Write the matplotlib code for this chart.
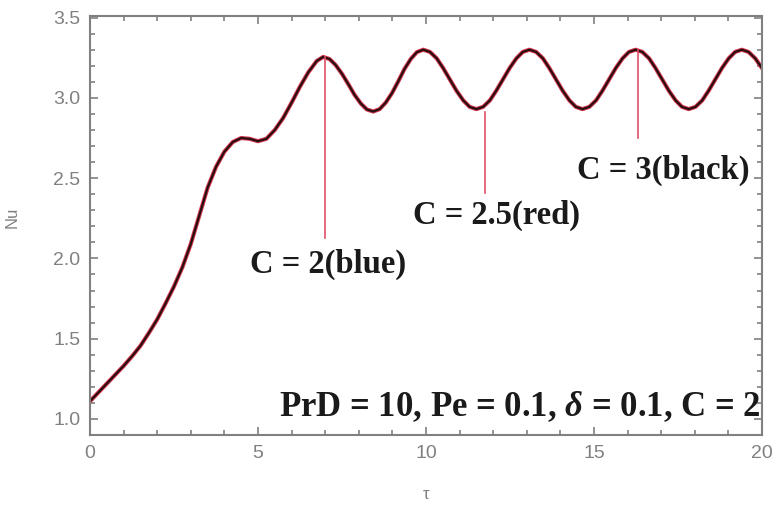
import matplotlib
matplotlib.use("Agg")
import matplotlib.pyplot as plt
from matplotlib.ticker import MultipleLocator

plt.rcParams['mathtext.fontset'] = 'custom'
plt.rcParams['mathtext.it'] = 'Liberation Serif:italic:bold'
plt.rcParams['mathtext.rm'] = 'Liberation Serif:bold'

# Nu(tau) (the three C curves overlap)
tau = [0.0, 0.25, 0.5, 0.75, 1.0, 1.25, 1.5, 1.75, 2.0, 2.25, 2.5, 2.75, 3.0, 3.25, 3.5,
       3.75, 4.0, 4.25, 4.5,
       4.75, 5.0, 5.25, 5.5, 5.75, 6.0, 6.25, 6.5, 6.75, 6.94,
       7.13, 7.31, 7.50, 7.69, 7.87, 8.06, 8.24, 8.43,
       8.62, 8.80, 8.99, 9.18, 9.36, 9.55, 9.73, 9.92,
       10.12, 10.32, 10.51, 10.71, 10.91, 11.11, 11.30, 11.50,
       11.70, 11.90, 12.09, 12.29, 12.49, 12.69, 12.88, 13.08,
       13.28, 13.48, 13.67, 13.87, 14.07, 14.27, 14.46, 14.66,
       14.86, 15.06, 15.25, 15.45, 15.65, 15.85, 16.04, 16.24,
       16.44, 16.64, 16.83, 17.03, 17.23, 17.43, 17.62, 17.82,
       18.02, 18.22, 18.41, 18.61, 18.81, 19.01, 19.20, 19.40,
       19.60, 19.80, 20.0]
nu = [1.11, 1.165, 1.22, 1.275, 1.33, 1.39, 1.455, 1.535, 1.62, 1.72, 1.825, 1.945, 2.09, 2.265, 2.44,
      2.57, 2.665, 2.725, 2.75,
      2.745, 2.73, 2.745, 2.80, 2.875, 2.97, 3.07, 3.16, 3.23, 3.255,
      3.242, 3.205, 3.15, 3.085, 3.02, 2.965, 2.928, 2.915,
      2.93, 2.97, 3.03, 3.105, 3.18, 3.243, 3.285, 3.30,
      3.286, 3.246, 3.186, 3.115, 3.044, 2.984, 2.944, 2.93,
      2.944, 2.984, 3.044, 3.115, 3.186, 3.246, 3.286, 3.30,
      3.286, 3.246, 3.186, 3.115, 3.044, 2.984, 2.944, 2.93,
      2.944, 2.984, 3.044, 3.115, 3.186, 3.246, 3.286, 3.30,
      3.286, 3.246, 3.186, 3.115, 3.044, 2.984, 2.944, 2.93,
      2.944, 2.984, 3.044, 3.115, 3.186, 3.246, 3.286, 3.30,
      3.286, 3.246, 3.185]

# annotations
labels = ["C = 2(blue)", "C = 2.5(red)", "C = 3(black)"]
line_tau = [7.0, 11.75, 16.32]
line_top = [3.255, 2.91, 3.30]
line_bot = [2.13, 2.41, 2.75]
text_tau = [7.1, 12.1, 17.05]
text_nu = [1.96, 2.27, 2.55]

params = r"PrD = 10, Pe = 0.1, $\delta$ = 0.1, C = 2"

gray = "#808080"

fig = plt.figure(figsize=(7.75, 5.08), dpi=100)
ax = fig.add_axes([0.1161, 0.1437, 0.8671, 0.8248])

ax.plot(tau, nu, color="#d63a4e", lw=3.0, solid_capstyle="round")
ax.plot(tau, nu, color="#2a0e12", lw=1.6)

for lab, lt, t0, b0, tx, ty in zip(labels, line_tau, line_top, line_bot, text_tau, text_nu):
    ax.plot([lt, lt], [t0, b0], color="#e0506a", lw=1.2)
    ax.text(tx, ty, lab, ha="center", va="center", fontsize=23.5,
            family="Liberation Serif", fontweight="bold", color="#1a1a1a")

ax.text(19.95, 1.075, params, ha="right", va="center", fontsize=25,
        family="Liberation Serif", fontweight="bold", color="#1a1a1a")

ax.set_xlim(0, 20)
ax.set_ylim(0.9, 3.51)
ax.xaxis.set_major_locator(MultipleLocator(5))
ax.xaxis.set_minor_locator(MultipleLocator(1))
ax.yaxis.set_major_locator(MultipleLocator(0.5))
ax.yaxis.set_minor_locator(MultipleLocator(0.1))
ax.yaxis.set_major_formatter(plt.FormatStrFormatter("%.1f"))

ax.tick_params(which="both", direction="in", top=True, right=True, color=gray,
               labelcolor=gray, labelsize=14, width=1.2)
ax.tick_params(which="major", length=6, pad=7)
ax.tick_params(which="minor", length=3.5)
for lbl in ax.get_xticklabels() + ax.get_yticklabels():
    lbl.set_family("Liberation Sans")
for s in ax.spines.values():
    s.set_color(gray)
    s.set_linewidth(1.5)

ax.set_xlabel("τ", fontsize=12, color=gray, family="Liberation Sans")
ax.set_ylabel("Nu", fontsize=12, color=gray, family="Liberation Sans")
ax.xaxis.set_label_coords(0.5, -0.125)
ax.yaxis.set_label_coords(-0.104, 0.52)

fig.savefig("out.png", dpi=100)
